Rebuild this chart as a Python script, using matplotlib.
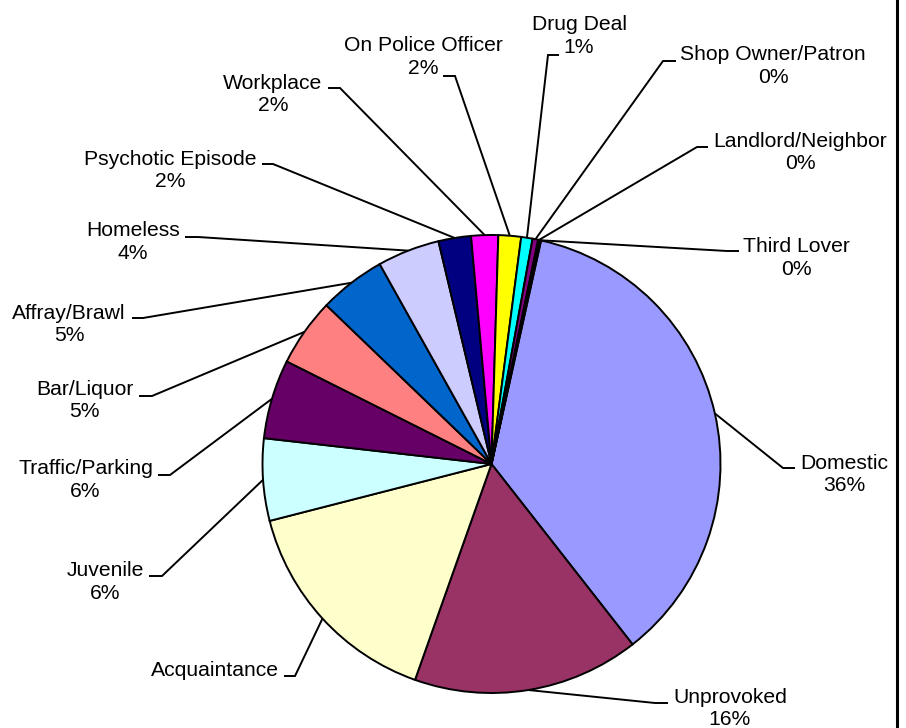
import numpy as np
import matplotlib
matplotlib.use("Agg")
import matplotlib.pyplot as plt

W, H = 906, 728

categories = ["Domestic", "Unprovoked", "Acquaintance", "Juvenile", "Traffic/Parking",
              "Bar/Liquor", "Affray/Brawl", "Homeless", "Psychotic Episode", "Workplace",
              "On Police Officer", "Drug Deal", "Shop Owner/Patron", "Landlord/Neighbor",
              "Third Lover"]
shares = [36.0, 16.0, 15.6, 5.8, 5.6, 4.8, 4.7, 4.4, 2.3, 1.9, 1.6, 0.8, 0.4, 0.1, 0.1]
colors = ["#9999FF", "#993366", "#FFFFCC", "#CCFFFF", "#660066", "#FF8080", "#0066CC",
          "#CCCCFF", "#000080", "#FF00FF", "#FFFF00", "#00FFFF", "#800080", "#800000",
          "#008080"]
show_percent = [True] * 15
show_percent[2] = False  # the Acquaintance share is not printed

# label block centre, leader elbow x, leader end x, leader y (pixels, y down)
label_layout = {
    "Domestic": (844, 474.5, 783, 795, 468),
    "Unprovoked": (730, 708.5, 655, 668, 703),
    "Acquaintance": (215, 670, 295, 284, 676),
    "Juvenile": (105.5, 582, 162, 149, 576),
    "Traffic/Parking": (85.5, 480, 170, 158, 475),
    "Bar/Liquor": (84.5, 400.5, 152, 139, 396),
    "Affray/Brawl": (69, 324.5, 143, 132, 318),
    "Homeless": (133, 242, 198, 185, 237),
    "Psychotic Episode": (170, 170.5, 273, 262, 164),
    "Workplace": (273, 94.5, 340, 328, 88),
    "On Police Officer": (423, 57, 455, 443, 76),
    "Drug Deal": (579, 36, 548, 559, 55),
    "Shop Owner/Patron": (773, 66, 663, 676, 61),
    "Landlord/Neighbor": (800, 152.5, 697, 708, 147),
    "Third Lover": (796, 258, 727, 739, 251),
}

CENTER = (491.5, 464.0)
RADIUS = 229.0

plt.rcParams["font.family"] = ["Liberation Sans", "DejaVu Sans"]

fig = plt.figure(figsize=(W / 100, H / 100), dpi=100)
ax = fig.add_axes([0, 0, 1, 1])

# y axis runs downward, so counterclockwise in data is clockwise on screen
wedges, _ = ax.pie(shares, colors=colors, center=CENTER, radius=RADIUS,
                   startangle=-77.5, counterclock=True,
                   wedgeprops=dict(edgecolor="black", linewidth=1.4))

total = sum(shares)
for wedge, name, value, with_pct in zip(wedges, categories, shares, show_percent):
    tx, ty, ex, lx, ly = label_layout[name]
    mid = np.deg2rad((wedge.theta1 + wedge.theta2) / 2)
    px = CENTER[0] + RADIUS * np.cos(mid)
    py = CENTER[1] + RADIUS * np.sin(mid)
    ax.plot([px, ex, lx], [py, ly, ly], color="black", lw=1.4,
            solid_capstyle="butt", solid_joinstyle="miter")
    text = f"{name}\n{value / total * 100:.0f}%" if with_pct else name
    ax.text(tx, ty, text, ha="center", va="center", multialignment="center",
            fontsize=15.2, linespacing=1.22, color="black")

# right-hand frame edge of the chart area
ax.plot([897, 897], [0, H], color="black", lw=2.2)

ax.set_xlim(0, W)
ax.set_ylim(H, 0)
ax.set_aspect("auto")
ax.axis("off")

fig.savefig("out.png", dpi=100)
